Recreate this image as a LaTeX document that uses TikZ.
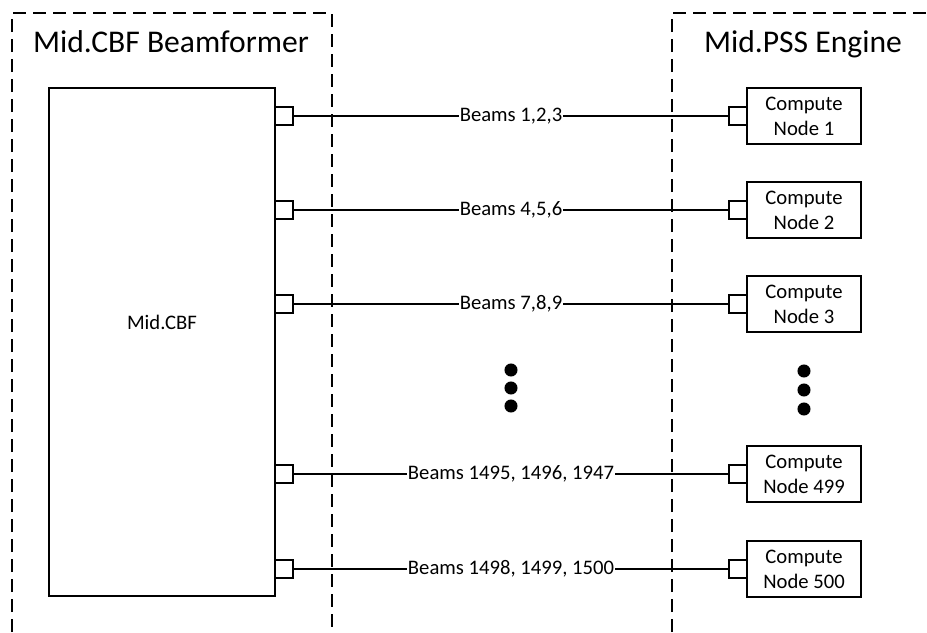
\documentclass[tikz,border=0pt]{standalone}
\usepackage{fontspec}
\setmainfont{Carlito}
\usepackage{tikz}
\usetikzlibrary{positioning}

\tikzset{
  group/.style={line width=1.1pt, dash pattern=on 9.5pt off 5.5pt},
  block/.style={draw, line width=1.4pt, inner sep=0pt, outer sep=0pt},
  port/.style={block, minimum size=13.5pt},
  compute/.style={block, minimum width=85.5pt, minimum height=41.5pt, align=center,
    font=\fontsize{15.5}{18.75}\selectfont},
  beam/.style={inner sep=0.6pt, font=\fontsize{15.5}{18.75}\selectfont},
  heading/.style={anchor=base, font=\fontsize{23.7}{28}\selectfont},
  wire/.style={line width=1pt},
}

\begin{document}
\begin{tikzpicture}[x=0.75pt,y=-0.75pt]
  \useasboundingbox (0,0) rectangle (927,632);

  % Dashed group outlines (open at the page edges)
  \draw[group] (12,632) -- (12,13) -- (332,13) -- (332,632);
  \draw[group] (672,632) -- (672,13) -- (927,13);
  \node[heading] (cbftitle) at (171,52) {Mid.CBF Beamformer};
  \node[heading] (psstitle) at (803,52) {Mid.PSS Engine};

  % Beamformer block
  \node[block, minimum width=169.5pt, minimum height=381pt] (cbf) at (162,342) {};
  \node[beam] (cbflabel) at (162,322) {Mid.CBF};

  % Compute nodes
  \node[compute] (c1) at (804,116) {Compute\\Node 1};
  \node[compute] (c2) at (804,210) {Compute\\Node 2};
  \node[compute] (c3) at (804,304) {Compute\\Node 3};
  \node[compute] (c499) at (804,474) {Compute\\Node 499};
  \node[compute] (c500) at (804,569) {Compute\\Node 500};

  % Ports on both ends
  \node[port, left=0pt of c1] (q1) {};
  \node[port, left=0pt of c2] (q2) {};
  \node[port, left=0pt of c3] (q3) {};
  \node[port, left=0pt of c499] (q499) {};
  \node[port, left=0pt of c500] (q500) {};
  \node[port, anchor=west] (p1) at (cbf.east |- c1) {};
  \node[port, anchor=west] (p2) at (cbf.east |- c2) {};
  \node[port, anchor=west] (p3) at (cbf.east |- c3) {};
  \node[port, anchor=west] (p499) at (cbf.east |- c499) {};
  \node[port, anchor=west] (p500) at (cbf.east |- c500) {};

  % Beam links
  \node[beam] (b1) at (511,116) {Beams 1,2,3};
  \node[beam] (b2) at (511,210) {Beams 4,5,6};
  \node[beam] (b3) at (511,304) {Beams 7,8,9};
  \node[beam] (b499) at (511,474) {Beams 1495, 1496, 1947};
  \node[beam] (b500) at (511,569) {Beams 1498, 1499, 1500};
  \draw[wire] (p1) -- (b1);   \draw[wire] (b1) -- (q1);
  \draw[wire] (p2) -- (b2);   \draw[wire] (b2) -- (q2);
  \draw[wire] (p3) -- (b3);   \draw[wire] (b3) -- (q3);
  \draw[wire] (p499) -- (b499); \draw[wire] (b499) -- (q499);
  \draw[wire] (p500) -- (b500); \draw[wire] (b500) -- (q500);

  % Ellipsis dots
  \fill (511,370) circle[radius=4.9pt];
  \fill (511,388) circle[radius=4.9pt];
  \fill (511,406) circle[radius=4.9pt];
  \fill (804,371) circle[radius=4.9pt];
  \fill (804,390) circle[radius=4.9pt];
  \fill (804,409) circle[radius=4.9pt];
\end{tikzpicture}
\end{document}
